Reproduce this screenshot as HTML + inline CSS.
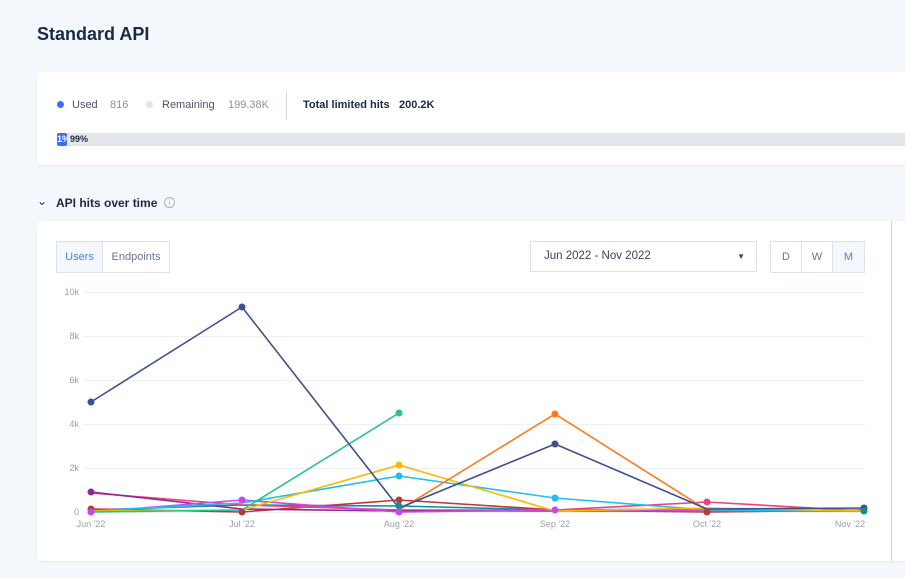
<!DOCTYPE html>
<html><head><meta charset="utf-8"><style>
body{margin:0;width:905px;height:578px;background:#f4f7fb;font-family:"Liberation Sans",sans-serif;position:relative;overflow:hidden;color:#1d2b45}
.h1{position:absolute;left:37px;top:24px;font-size:18px;font-weight:bold;color:#1b2a44}
.card{position:absolute;background:#fff;border-radius:4px;box-shadow:0 1px 2px rgba(0,0,0,.06)}
.s{position:absolute;font-size:11px;color:#5b6478}
.b{position:absolute;font-size:11px;font-weight:bold;color:#1b2a44}
.btn{position:absolute;border:1px solid #dde2ea;font-size:11px;color:#6b7390;text-align:center;box-sizing:border-box}
</style></head><body>
<div class="h1">Standard API</div>
<div class="card" style="left:37px;top:72px;width:880px;height:93px"></div>
<div style="position:absolute;left:57px;top:101px;width:7px;height:7px;border-radius:50%;background:#3b6ef5"></div>
<div class="s" style="left:72px;top:99px;color:#4a5366">Used</div>
<div class="s" style="left:110px;top:99px;color:#8a90a0">816</div>
<div style="position:absolute;left:146px;top:101px;width:7px;height:7px;border-radius:50%;background:#e2e4e8"></div>
<div class="s" style="left:162px;top:99px;color:#4a5366">Remaining</div>
<div class="s" style="left:228px;top:99px;color:#8a90a0">199.38K</div>
<div style="position:absolute;left:286px;top:92px;width:1px;height:28px;background:#d5d9e0"></div>
<div class="b" style="left:303px;top:99px">Total limited hits</div>
<div class="b" style="left:399px;top:99px">200.2K</div>
<div style="position:absolute;left:57px;top:133px;width:848px;height:13px;background:#e3e6ea"></div>
<div style="position:absolute;left:57px;top:133px;width:10px;height:13px;background:#3b6ef5;border-radius:2px;color:#fff;font-size:9px;font-weight:bold;line-height:13px;overflow:hidden;white-space:nowrap">1%</div>
<div style="position:absolute;left:70px;top:133px;font-size:9px;font-weight:bold;line-height:13px;color:#1b2a44">99%</div>
<div style="position:absolute;left:37px;top:194px;font-size:12px;color:#1b2a44">&#8964;</div>
<div class="b" style="left:56px;top:196px;font-size:12px">API hits over time</div>
<div style="position:absolute;left:164px;top:197px;width:11px;height:11px;border:1px solid #aab0bc;border-radius:50%;box-sizing:border-box;font-size:8px;color:#aab0bc;text-align:center;line-height:10px">i</div>
<div class="card" style="left:37px;top:221px;width:880px;height:340px"></div>
<div style="position:absolute;left:891px;top:221px;width:1px;height:340px;background:#cdd3db"></div>
<div class="btn" style="left:56px;top:241px;width:47px;height:32px;line-height:30px;background:#f4f7fc;color:#4f7ef0">Users</div>
<div class="btn" style="left:102px;top:241px;width:68px;height:32px;line-height:30px">Endpoints</div>
<div class="btn" style="left:530px;top:241px;width:227px;height:31px;line-height:29px;text-align:left;padding-left:13px;color:#3c4456;font-size:11.5px">Jun 2022 - Nov 2022<span style="position:absolute;right:11px;top:0;font-size:8px;color:#444">&#9660;</span></div>
<div class="btn" style="left:770px;top:241px;width:32px;height:32px;line-height:30px">D</div>
<div class="btn" style="left:801px;top:241px;width:32px;height:32px;line-height:30px">W</div>
<div class="btn" style="left:832px;top:241px;width:33px;height:32px;line-height:30px;background:#f4f7fc;color:#4f7ef0">M</div>
<svg style="position:absolute;left:0;top:0" width="905" height="578" font-family="Liberation Sans,sans-serif">
<g stroke="#f0f1f4" stroke-width="1">
<line x1="84" x2="865" y1="292.5" y2="292.5"/><line x1="84" x2="865" y1="336.5" y2="336.5"/><line x1="84" x2="865" y1="380.5" y2="380.5"/><line x1="84" x2="865" y1="424.5" y2="424.5"/><line x1="84" x2="865" y1="468.5" y2="468.5"/><line x1="84" x2="865" y1="512.5" y2="512.5"/></g>
<g font-size="9" fill="#9a9fab" text-anchor="end">
<text x="79" y="295">10k</text><text x="79" y="339">8k</text><text x="79" y="383">6k</text><text x="79" y="427">4k</text><text x="79" y="471">2k</text><text x="79" y="515">0</text></g>
<g font-size="9" fill="#9a9fab" text-anchor="middle">
<text x="91" y="527">Jun '22</text><text x="242" y="527">Jul '22</text><text x="399" y="527">Aug '22</text><text x="555" y="527">Sep '22</text><text x="707" y="527">Oct '22</text><text x="850" y="527">Nov '22</text></g>
<g fill="none" stroke-width="1.6">
<polyline stroke="#0e8f9a" points="91,510 242,505 399,506 555,510 707,509 864,511"/>
<polyline stroke="#b83b3b" points="91,509 242,512 399,500 555,510 707,512 864,510"/>
<polyline stroke="#e8457a" points="91,493 242,505 399,510 555,510 707,502 864,511"/>
<polyline stroke="#8e2a9e" points="91,492 242,509 399,511 555,511 707,511 864,511"/>
<polyline stroke="#c846f0" points="91,512 242,500 399,512 555,510 707,511 864,511"/>
<polyline stroke="#1ec0e6" points="91,511 242,503 399,476 555,498 707,510 864,511"/>
<polyline stroke="#ffb800" points="91,511 242,510 399,465 555,511 707,508 864,511"/>
<polyline stroke="#26c48a" points="91,512 242,510 399,413"/>
<polyline stroke="#ff7a1a" points="399,510 555,414 707,510"/>
<polyline stroke="#3f4f8f" points="91,402 242,307 399,508 555,444 707,509 864,508"/>
</g>
<g>
<circle cx="91" cy="402" r="3.5" fill="#3f4f8f"/><circle cx="242" cy="307" r="3.5" fill="#3f4f8f"/><circle cx="555" cy="444" r="3.5" fill="#3f4f8f"/><circle cx="864" cy="508" r="3.5" fill="#3f4f8f"/>
<circle cx="399" cy="413" r="3.5" fill="#26c48a"/>
<circle cx="555" cy="414" r="3.5" fill="#ff7a1a"/>
<circle cx="399" cy="465" r="3.5" fill="#ffb800"/>
<circle cx="399" cy="476" r="3.5" fill="#1ec0e6"/><circle cx="555" cy="498" r="3.5" fill="#1ec0e6"/>
<circle cx="91" cy="492" r="3.5" fill="#8e2a9e"/><circle cx="91" cy="509" r="3.5" fill="#b83b3b"/><circle cx="91" cy="512" r="3.5" fill="#c846f0"/>
<circle cx="242" cy="500" r="3.5" fill="#c846f0"/><circle cx="242" cy="512" r="3.5" fill="#b83b3b"/>
<circle cx="399" cy="500" r="3.5" fill="#b83b3b"/><circle cx="399" cy="506" r="3.5" fill="#0e8f9a"/><circle cx="399" cy="512" r="3.5" fill="#c846f0"/>
<circle cx="555" cy="510" r="3.5" fill="#c846f0"/><circle cx="707" cy="502" r="3.5" fill="#e8457a"/><circle cx="707" cy="512" r="3.5" fill="#b83b3b"/>
<circle cx="864" cy="511" r="3.5" fill="#0e8f9a"/>
</g>
</svg>
</body></html>
